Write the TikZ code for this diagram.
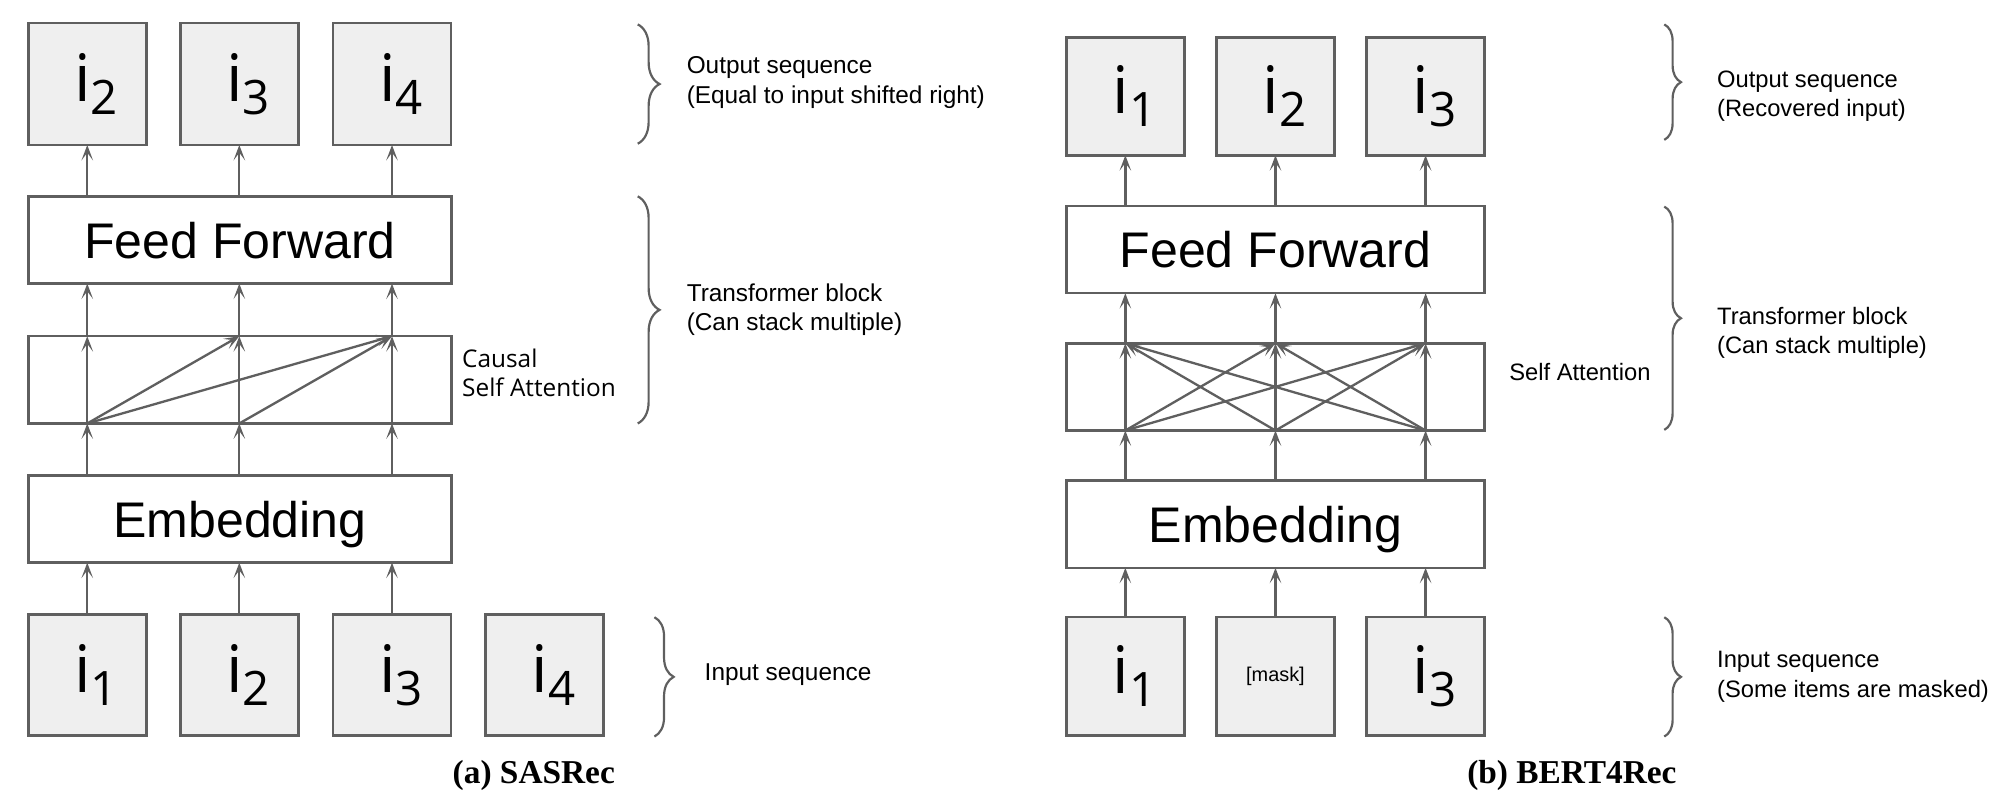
\documentclass[tikz,border=0pt]{standalone}
\usepackage{fontspec}
\setsansfont{Liberation Sans}
\newfontfamily\itemfont{Open Sans}
\newfontfamily\captfont{Liberation Serif}
\usetikzlibrary{arrows.meta,decorations.pathreplacing,calc}
\definecolor{lc}{HTML}{5F5F5F}
\definecolor{boxfill}{HTML}{EFEFEF}
\newcommand\itm[1]{\hspace*{14pt}{\fontsize{51}{51}\selectfont i}\raisebox{-10pt}{\fontsize{37}{37}\selectfont #1}}
\tikzset{
  itembox/.style={draw=lc, line width=2pt, fill=boxfill, minimum width=92pt, minimum height=#1, inner sep=0pt, outer sep=0pt, font=\itemfont},
  widebox/.style={draw=lc, line width=2pt, fill=white, minimum width=#1, minimum height=68pt, inner sep=0pt, outer sep=0pt, text depth=0pt, font=\sffamily\fontsize{39}{39}\selectfont},
  arr/.style={draw=lc, line width=1.8pt, -{Stealth[length=12pt,width=9pt,inset=6pt]}},
  brc/.style={draw=lc, line width=1.7pt, decorate, decoration={brace, amplitude=#1}},
  lbl/.style={font=\sffamily\fontsize{19}{23}\selectfont, align=left, anchor=west, inner sep=0pt},
  rlbl/.style={font=\sffamily\fontsize{18.5}{23}\selectfont, align=left, anchor=west, inner sep=0pt},
  attlbl/.style={font=\itemfont\fontsize{19}{23}\selectfont, align=left, anchor=west, inner sep=0pt},
  capt/.style={font=\captfont\bfseries\fontsize{26}{26}\selectfont, inner sep=0pt},
}
\begin{document}
\begin{tikzpicture}[x=1pt,y=1pt]
\useasboundingbox (0,0) rectangle (1568,-625);
% ---------------- (a) SASRec ----------------
\node[itembox=95pt] (lout1) at (68,-65.5) {\itm{2}};
\node[itembox=95pt] (lout2) at (186.5,-65.5) {\itm{3}};
\node[itembox=95pt] (lout3) at (305.5,-65.5) {\itm{4}};
\node[widebox=330pt] (lff) at (187,-187) {Feed Forward};
\node[widebox=330pt] (latt) at (187,-296) {};
\node[widebox=330pt] (lemb) at (187,-404.5) {Embedding};
\node[itembox=94pt] (lin1) at (68,-526) {\itm{1}};
\node[itembox=94pt] (lin2) at (186.5,-526) {\itm{2}};
\node[itembox=94pt] (lin3) at (305.5,-526) {\itm{3}};
\node[itembox=94pt] (lin4) at (424.5,-526) {\itm{4}};
\foreach \i in {1,2,3}{
  \draw[arr] (lin\i.north) -- (lin\i.north |- lemb.south);
  \draw[arr] (lin\i.north |- lemb.north) -- (lin\i.north |- latt.south);
  \draw[arr] (lin\i.north |- latt.south) -- (lin\i.north |- latt.north);
  \draw[arr] (lin\i.north |- latt.north) -- (lin\i.north |- lff.south);
  \draw[arr] (lin\i.north |- lff.north) -- (lout\i.south);
}
\draw[arr] (lin1.north |- latt.south) -- (lin2.north |- latt.north);
\draw[arr] (lin1.north |- latt.south) -- (lin3.north |- latt.north);
\draw[arr] (lin2.north |- latt.south) -- (lin3.north |- latt.north);
\node[attlbl] (lattl) at (360,-290.5) {Causal\\Self Attention};
\draw[brc=17pt] (497,-19) -- (497,-112);
\draw[brc=17pt] (497,-153) -- (497,-330);
\draw[brc=15pt] (510,-481) -- (510,-574);
\node[lbl] (loutl) at (535,-64.5) {Output sequence\\(Equal to input shifted right)};
\node[lbl] (ltrl) at (535,-241.5) {Transformer block\\(Can stack multiple)};
\node[lbl] (linl) at (549,-526) {Input sequence};
\node[capt] (lcap) at (416,-604) {(a) SASRec};
% ---------------- (b) BERT4Rec ----------------
\node[itembox=92pt] (rout1) at (877,-75) {\itm{1}};
\node[itembox=92pt] (rout2) at (994,-75) {\itm{2}};
\node[itembox=92pt] (rout3) at (1111,-75) {\itm{3}};
\node[widebox=326pt] (rff) at (994,-194.5) {Feed Forward};
\node[widebox=326pt] (ratt) at (994,-301.5) {};
\node[widebox=326pt] (remb) at (994,-408.5) {Embedding};
\node[itembox=92pt] (rin1) at (877,-527) {\itm{1}};
\node[itembox=92pt, font=\sffamily\fontsize{15.5}{15.5}\selectfont] (rin2) at (994,-527) {[mask]};
\node[itembox=92pt] (rin3) at (1111,-527) {\itm{3}};
\foreach \i in {1,2,3}{
  \draw[arr] (rin\i.north) -- (rin\i.north |- remb.south);
  \draw[arr] (rin\i.north |- remb.north) -- (rin\i.north |- ratt.south);
  \draw[arr] (rin\i.north |- ratt.south) -- (rin\i.north |- ratt.north);
  \draw[arr] (rin\i.north |- ratt.north) -- (rin\i.north |- rff.south);
  \draw[arr] (rin\i.north |- rff.north) -- (rout\i.south);
}
\foreach \i/\j in {1/2,1/3,2/1,2/3,3/1,3/2}{
  \draw[arr] (rin\i.north |- ratt.south) -- (rin\j.north |- ratt.north);
}
\node[rlbl] (rattl) at (1176,-290) {Self Attention};
\draw[brc=13pt] (1297,-19) -- (1297,-109);
\draw[brc=13pt] (1297,-161) -- (1297,-335);
\draw[brc=13pt] (1297,-481) -- (1297,-574);
\node[rlbl] (routl) at (1338,-75) {Output sequence\\(Recovered input)};
\node[rlbl] (rtrl) at (1338,-259.5) {Transformer block\\(Can stack multiple)};
\node[rlbl] (rinl) at (1338,-527.5) {Input sequence\\(Some items are masked)};
\node[capt] (rcap) at (1225,-604) {(b) BERT4Rec};
\end{tikzpicture}
\end{document}
